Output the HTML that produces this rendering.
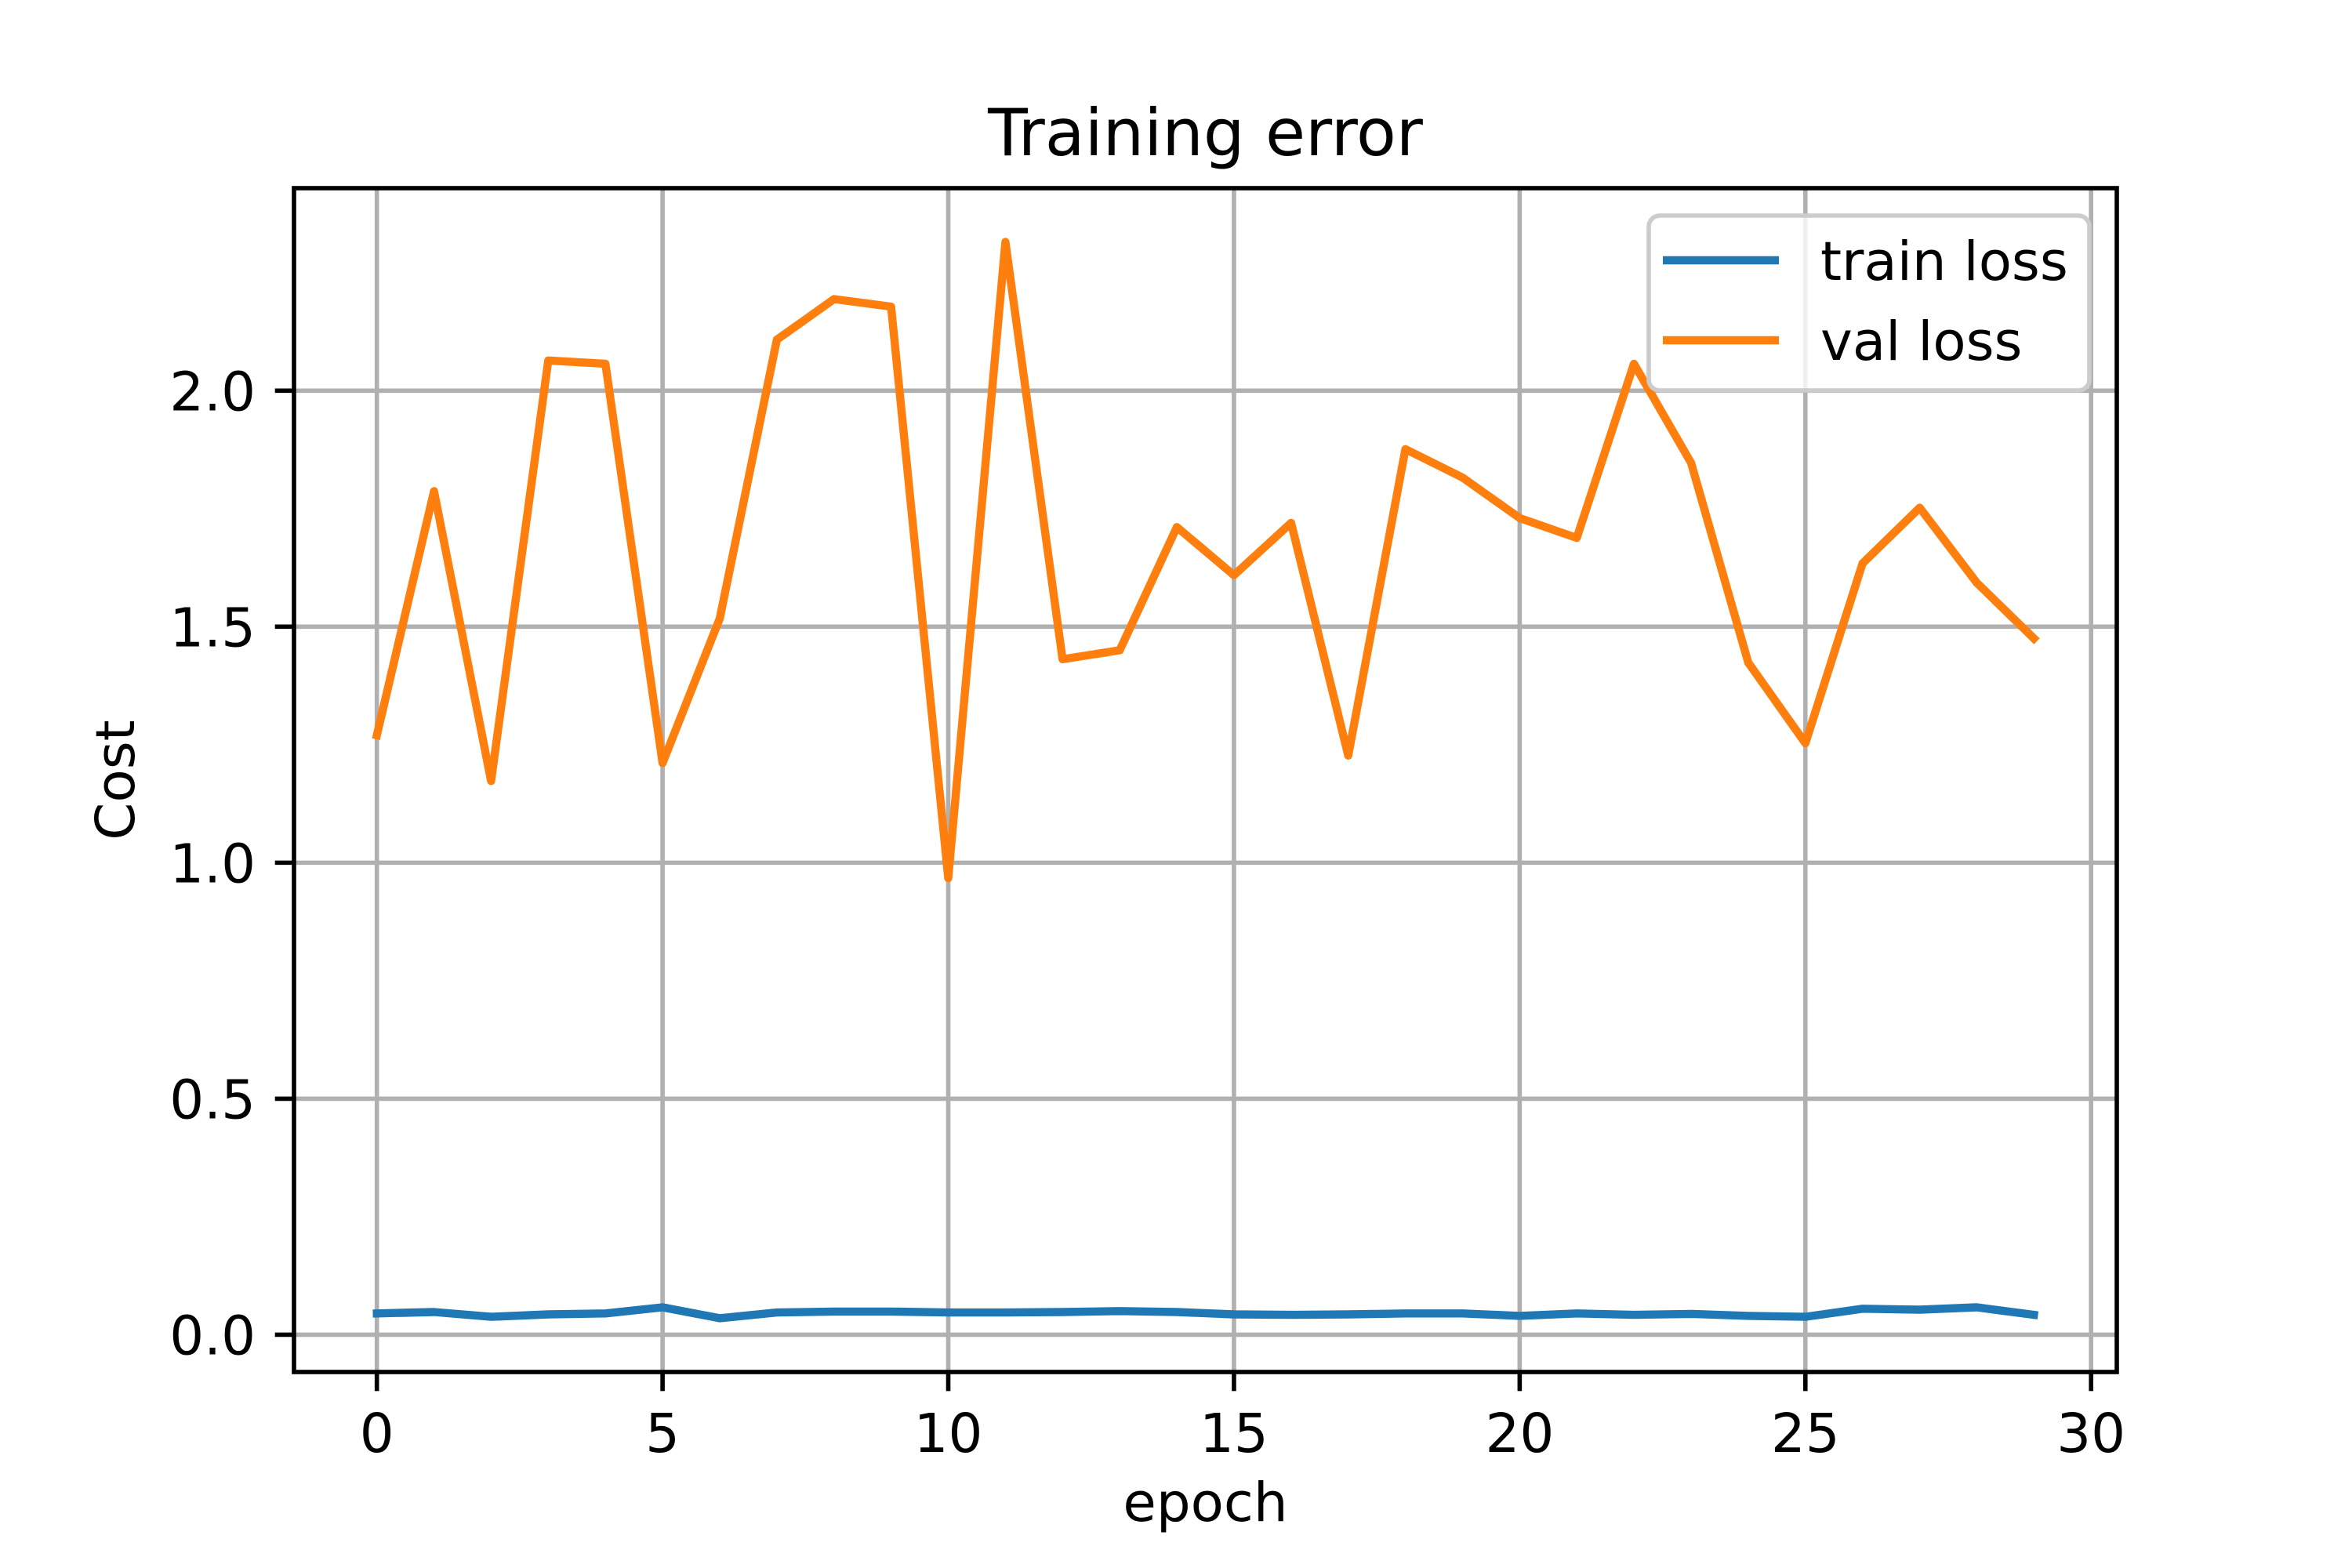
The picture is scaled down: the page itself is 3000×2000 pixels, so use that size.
<!DOCTYPE html>
<html><head><meta charset="utf-8"><style>
html,body{margin:0;padding:0;background:#fff}
svg{display:block}
text{font-family:"DejaVu Sans","Liberation Sans",sans-serif;fill:#000}
</style></head><body>
<svg id="chart" width="3000" height="2000" viewBox="0 0 3000 2000" xmlns="http://www.w3.org/2000/svg">
<rect width="3000" height="2000" fill="#fff"/>
<g id="grid"></g>
<g id="series"></g>
<rect x="375" y="240" width="2325" height="1510" fill="none" stroke="#000" stroke-width="5.6"/>
<g id="ticks"></g>
<text x="1537.5" y="198" font-size="83" text-anchor="middle">Training error</text>
<text x="1537.5" y="1940" font-size="69" text-anchor="middle">epoch</text>
<text x="0" y="0" font-size="69" text-anchor="middle" dominant-baseline="central" transform="translate(148,995) rotate(-90)">Cost</text>
<g>
<rect x="2103" y="275" width="562" height="223" rx="14" fill="#fff" fill-opacity="0.8" stroke="#cccccc" stroke-width="5.6"/>
<line x1="2121" y1="332" x2="2269" y2="332" stroke="#1f77b4" stroke-width="10.4"/>
<text x="2322" y="357" font-size="69">train loss</text>
<line x1="2121" y1="434" x2="2269" y2="434" stroke="#ff7f0e" stroke-width="10.4"/>
<text x="2322" y="459" font-size="69">val loss</text>
</g>
</svg>
<script>
const epochs = [0,1,2,3,4,5,6,7,8,9,10,11,12,13,14,15,16,17,18,19,20,21,22,23,24,25,26,27,28,29];
const trainLoss = [0.045,0.048,0.038,0.043,0.045,0.058,0.035,0.047,0.049,0.049,0.047,0.047,0.048,0.050,0.048,0.043,0.042,0.043,0.045,0.045,0.040,0.045,0.042,0.044,0.040,0.038,0.055,0.053,0.058,0.042];
const valLoss = [1.27,1.787,1.173,2.064,2.057,1.211,1.517,2.108,2.194,2.178,0.967,2.315,1.431,1.450,1.711,1.609,1.720,1.227,1.876,1.816,1.730,1.688,2.057,1.847,1.424,1.253,1.634,1.752,1.593,1.475];
const xTicks = [0,5,10,15,20,25,30];
const yTicks = [0.0,0.5,1.0,1.5,2.0];
const yTickLabels = ["0.0","0.5","1.0","1.5","2.0"];

const NS="http://www.w3.org/2000/svg";
const L=375,R=2700,T=240,B=1750;
const xmin=-1.45,xmax=30.45,ymin=-0.079,ymax=2.429;
const sx=v=>L+(v-xmin)/(xmax-xmin)*(R-L);
const sy=v=>B-(v-ymin)/(ymax-ymin)*(B-T);
function mk(tag,attrs,parent){const e=document.createElementNS(NS,tag);for(const k in attrs)e.setAttribute(k,attrs[k]);parent.appendChild(e);return e;}
const grid=document.getElementById('grid'),ticks=document.getElementById('ticks'),series=document.getElementById('series');
xTicks.forEach(t=>{
  const x=sx(t);
  const g=mk('line',{x1:x,y1:T,x2:x,y2:B,stroke:'#b0b0b0','stroke-width':5.6},grid);
  
  
  const tk=mk('line',{x1:x,y1:B,x2:x,y2:B+24.3,stroke:'#000','stroke-width':5.6},ticks);
  
  
  const tx=mk('text',{x:x,y:1852,'font-size':69,'text-anchor':'middle'},ticks);
  tx.textContent=String(t);
  
  
});
yTicks.forEach((t,i)=>{
  const y=sy(t);
  const g=mk('line',{x1:L,y1:y,x2:R,y2:y,stroke:'#b0b0b0','stroke-width':5.6},grid);
  
  
  const tk=mk('line',{x1:L-24.3,y1:y,x2:L,y2:y,stroke:'#000','stroke-width':5.6},ticks);
  
  
  const tx=mk('text',{x:326,y:y+25,'font-size':69,'text-anchor':'end'},ticks);
  tx.textContent=yTickLabels[i];
  
  
});
function line(vals,color,name){
  const pts=epochs.map((e,i)=>sx(e).toFixed(1)+','+sy(vals[i]).toFixed(1)).join(' ');
  const p=mk('polyline',{points:pts,fill:'none',stroke:color,'stroke-width':10.4,'stroke-linejoin':'round','stroke-linecap':'square'},series);
  
  
}
line(trainLoss,'#1f77b4','train-loss-line');
line(valLoss,'#ff7f0e','val-loss-line');
</script>
</body></html>
